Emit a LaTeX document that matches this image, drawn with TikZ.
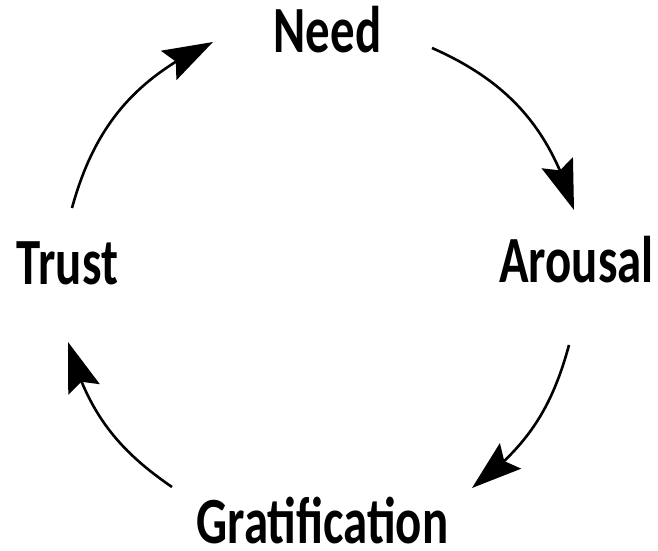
\documentclass[tikz,border=0pt]{standalone}
\usepackage{fontspec}
\newfontfamily\lblfont[FakeStretch=0.74]{Carlito}
\usetikzlibrary{arrows.meta,bending}
\tikzset{
  lbl/.style={inner sep=0pt, anchor=base, font=\lblfont\bfseries\fontsize{66}{66}\selectfont},
  cyc/.style={line width=2.6pt, -{Stealth[length=50pt, width=33pt, inset=8pt]}}
}
\begin{document}
\begin{tikzpicture}[x=1pt,y=1pt]
\useasboundingbox (0,0) rectangle (658,551);
% labels (pixel x, 551 - pixel baseline)
\node[lbl] (need) at (327.5,498) {Need};
\node[lbl] (arousal) at (576.5,268) {Arousal};
\node[lbl] (grat) at (322.5,8) {Gratification};
\node[lbl] (trust) at (67.5,266) {Trust};
% connector end points
\coordinate (a1s) at (72,343);
\coordinate (a1e) at (213,509);
\coordinate (a2s) at (432,503);
\coordinate (a2e) at (574,341);
\coordinate (a3s) at (569,206);
\coordinate (a3e) at (472,63);
\coordinate (a4s) at (172,64);
\coordinate (a4e) at (68,209);
\draw[cyc] (a1s) to[bend left=25] (a1e);
\draw[cyc] (a2s) to[bend left=25] (a2e);
\draw[cyc] (a3s) to[bend left=19] (a3e);
\draw[cyc] (a4s) to[bend left=20] (a4e);
\end{tikzpicture}
\end{document}
